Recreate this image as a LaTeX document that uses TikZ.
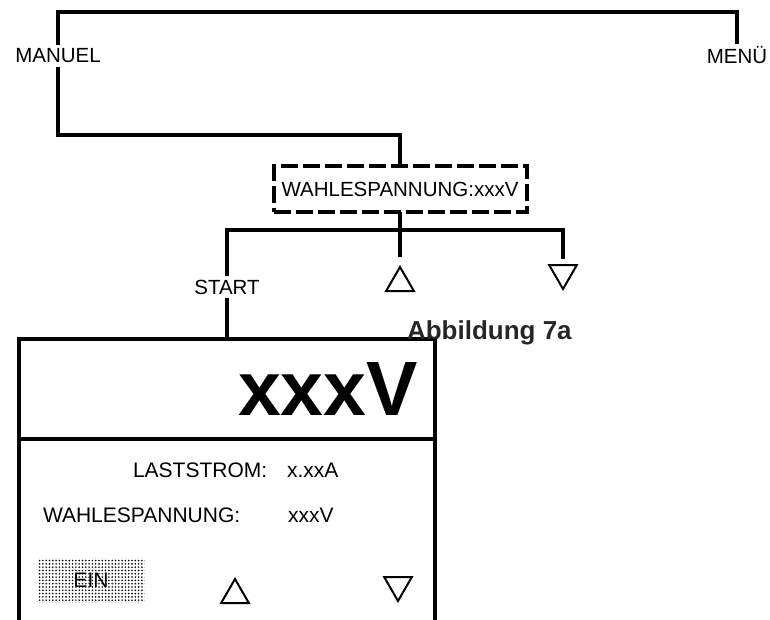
\documentclass[tikz,border=0pt]{standalone}
\usepackage{fontspec}
\setmainfont{Liberation Sans}
\usetikzlibrary{shapes.geometric, patterns.meta}

\begin{document}
\begin{tikzpicture}[
    x=1pt, y=-1pt,
    every node/.style={font=\fontsize{20.5}{24}\selectfont, inner sep=4pt, outer sep=0pt},
    wire/.style={line width=4pt},
    tri/.style={draw, regular polygon, regular polygon sides=3, minimum size=32pt,
        inner sep=0pt, line width=2pt},
    readtext/.style={font=\fontsize{21}{24}\selectfont, inner sep=0pt, anchor=base west},
]

\definecolor{captioncolor}{HTML}{262626}

\useasboundingbox (0,0) rectangle (770,620);

% ================================================================
%   menu tree on top, display panel below (y grows downwards, 1pt = 1px)
% ================================================================

% ---------------------------------------------------------------- tree
\node (manuel) at (58,56) {MANUEL};
\node[inner ysep=2pt] (menu) at (737,55) {MENÜ};
\node[draw, line width=4pt, dash pattern=on 17pt off 5pt,
    minimum width=253pt, minimum height=46pt] (wahl) at (400,189)
    {WAHLESPANNUNG:xxxV};
\node (start) at (227,287) {START};
\node[tri] (up) at (400,283) {};
\node[tri, regular polygon rotate=180] (down) at (563,273) {};

\coordinate (toprail) at (400,12);
\coordinate (midrail) at (400,135);
\coordinate (fork) at (400,230);

\draw[wire] (manuel.north) |- (toprail) -| (menu.north);
\draw[wire] (manuel.south) |- (midrail) -- (wahl.north);
\draw[wire] (wahl.south) -- (fork);
\draw[wire] (fork) -| (start.north);
\draw[wire, shorten >=10pt] (fork) -- (up.north);
\draw[wire, shorten >=6pt] (fork) -| (down.north);

% ---------------------------------------------------------------- display
\node[draw, line width=4pt, minimum width=416pt, minimum height=301pt,
    anchor=north] (display) at (227,339) {};
\coordinate (split) at (0,439);
\draw[line width=4pt] (display.west |- split) -- (display.east |- split);

\draw[wire] (start.south) -- (display.north);

\node[font=\bfseries\fontsize{77}{80}\selectfont, inner sep=0pt, anchor=base east]
    (readout) at (418,415) {xxxV};

\node[readtext] (lastlabel) at (133,477) {LASTSTROM:};
\node[readtext] (lastvalue) at (287,477) {x.xxA};
\node[readtext] (setlabel) at (43,522) {WAHLESPANNUNG:};
\node[readtext] (setvalue) at (288,522) {xxxV};

% EIN key is a dotted raster
\node[pattern={Dots[radius=0.9pt, distance=3.3pt]}, minimum width=107pt,
    minimum height=44pt, font=\fontsize{21}{24}\selectfont] (ein) at (91,580) {EIN};
\node[tri] (boxup) at (235,595) {};
\node[tri, regular polygon rotate=180] (boxdown) at (398,585) {};

% caption sits on the panel's top edge
\node[font=\bfseries\fontsize{26}{30}\selectfont, text=captioncolor, inner sep=0pt,
    anchor=base west] (caption) at (407,339) {Abbildung 7a};

\end{tikzpicture}
\end{document}
